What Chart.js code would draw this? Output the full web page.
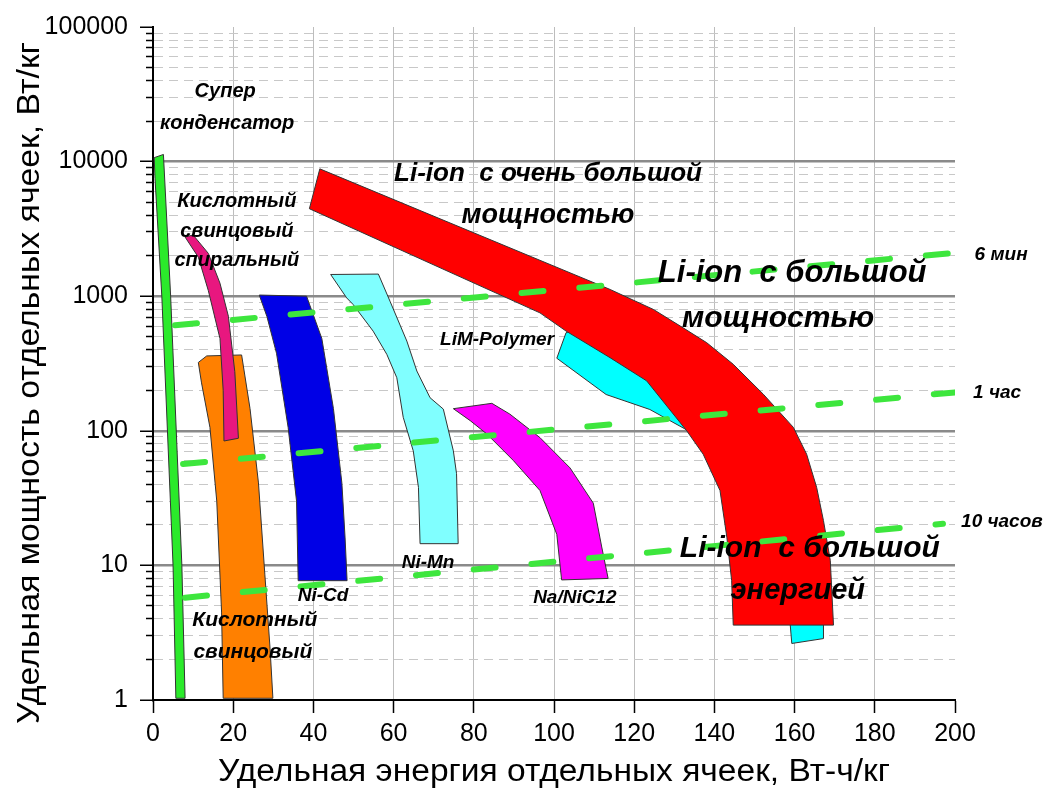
<!DOCTYPE html>
<html>
<head>
<meta charset="utf-8">
<script src="https://cdn.jsdelivr.net/npm/chart.js@4/dist/chart.umd.min.js"></script>
<style>
  html, body { margin: 0; padding: 0; background: #fff; }
</style>
</head>
<body>
<canvas id="ragone" width="1051" height="794"></canvas>
<script>
// ---- axis ticks ----
const xTicks = [0, 20, 40, 60, 80, 100, 120, 140, 160, 180, 200];
const yDecades = [1, 10, 100, 1000, 10000, 100000];
const yMinorSteps = [2, 3, 4, 5, 6, 7, 8, 9];

// ---- regions: [energy Wh/kg, power W/kg] outline points ----
const superCap = [[0.3, 10700], [0.5, 7500], [2.2, 1000], [5.0, 10], [5.7, 1.03],
  [8.0, 1.03], [7.2, 10], [4.4, 1000], [2.6, 11300]];
const leadSpiral = [[8.0, 2750], [10.0, 2850], [13.8, 2080], [16.7, 1250], [18.8, 710],
  [20.4, 275], [21.3, 88], [17.7, 84], [17.5, 200], [16.7, 485], [13.8, 1100], [11.3, 1950]];
const leadAcid = [[11.3, 322], [13.4, 360], [22.1, 366], [24.2, 146], [26.3, 41], [27.9, 8.5],
  [29.2, 2.4], [29.9, 1.03], [17.5, 1.03], [17.1, 4.5], [15.9, 30], [14.2, 106], [12.1, 227]];
const niCd = [[26.5, 1020], [38.3, 1000], [42.1, 485], [45.0, 146], [47.1, 41], [47.9, 16],
  [48.4, 7.7], [36.2, 7.7], [35.8, 30], [33.7, 106], [30.8, 377], [28.4, 708]];
const niMn = [[44.3, 1450], [56.2, 1460], [59.1, 918], [63.3, 464], [65.8, 278], [69.1, 176],
  [72.4, 145], [74.9, 71], [75.7, 48], [76.1, 14.5], [66.6, 14.5], [66.2, 38], [64.9, 71],
  [62.4, 126], [60.8, 248], [58.3, 370], [54.9, 550], [49.9, 868], [48.3, 971]];
const naNiCl = [[74.9, 146], [84.5, 160], [89.0, 133], [96.5, 89], [104.0, 53], [109.8, 29],
  [111.9, 13.7], [113.5, 8.0], [101.9, 7.8], [100.7, 17], [96.5, 36], [89.9, 60], [83.2, 95], [79.1, 119]];
const limPolymer = [[103.0, 535], [100.7, 346], [113.0, 186], [123.9, 144], [133.5, 100],
  [151.4, 21.5], [158.4, 5.5], [159.3, 2.63], [167.2, 2.86], [167.2, 3.7], [163.8, 30.3],
  [156.4, 119], [136.4, 330], [111.5, 653]];
const liIon = [[41.6, 8830], [114.0, 1122], [124.8, 797], [132.2, 582], [138.1, 451],
  [144.7, 312], [152.2, 187], [159.7, 106], [163.0, 67], [165.5, 38], [167.2, 21.5],
  [168.9, 10.9], [169.7, 3.6], [144.7, 3.6], [144.3, 7.7], [143.1, 16.2], [141.4, 36],
  [137.2, 67], [133.1, 100], [123.1, 235], [114.0, 349], [103.0, 551], [96.5, 752], [39.0, 4465]];

// ---- discharge-time lines ----
const line6min = [[5.5, 608], [200, 2100]];
const line1h = [[7.5, 56.6], [200, 193]];
const line10h = [[8.0, 5.75], [197, 20.4]];

// ---- text labels [text, energy, power, size] ----
const chartLabels = [
  ['Супер', 18.0, 33000, 20], ['конденсатор', 18.5, 19100, 20],
  ['Кислотный', 20.9, 5060, 20], ['свинцовый', 20.9, 3030, 20], ['спиральный', 20.9, 1848, 20],
  ['Li-ion  с очень большой', 98.5, 8150, 26], ['мощностью', 98.5, 3980, 27],
  ['Li-ion  с большой', 159.4, 1480, 31], ['мощностью', 155.9, 676, 30],
  ['LiM-Polymer', 85.8, 472, 19], ['Ni-Mn', 68.6, 10.5, 19], ['Ni-Cd', 42.4, 5.9, 19],
  ['Na/NiC12', 105.2, 5.7, 19], ['Кислотный', 25.4, 3.9, 21], ['свинцовый', 24.9, 2.27, 21],
  ['Li-ion  с большой', 163.8, 13.4, 30], ['энергией', 160.8, 6.5, 29],
  ['6 мин', 211.5, 2046, 19], ['1 час', 210.5, 191, 19], ['10 часов', 211.7, 21.2, 19]
];

const xTitle = 'Удельная энергия отдельных ячеек, Вт-ч/кг';
const yTitle = 'Удельная мощность отдельных ячеек, Вт/кг';

const SANS = '"Liberation Sans", Arial, sans-serif';

function isDecade(v) {
  const l = Math.log10(v);
  return Math.abs(l - Math.round(l)) < 1e-6;
}
const toPts = arr => arr.map(p => ({ x: p[0], y: p[1] }));

function region(points, color, order) {
  return { data: toPts(points), polygon: true, fillColor: color, order: order,
    showLine: false, pointRadius: 0, pointHoverRadius: 0 };
}
function timeLine(points) {
  return { data: toPts(points), showLine: true, order: 0, pointRadius: 0,
    borderColor: '#3de63d', borderWidth: 6, borderDash: [22, 36], borderCapStyle: 'round' };
}

// fill each region outline using point positions from the scales
const polygonFill = {
  id: 'polygonFill',
  beforeDatasetDraw(chart, args) {
    const ds = chart.data.datasets[args.index];
    if (!ds.polygon) return;
    const ctx = chart.ctx;
    ctx.save();
    ctx.beginPath();
    args.meta.data.forEach((p, i) => i ? ctx.lineTo(p.x, p.y) : ctx.moveTo(p.x, p.y));
    ctx.closePath();
    ctx.fillStyle = ds.fillColor;
    ctx.fill();
    ctx.lineWidth = 1;
    ctx.strokeStyle = '#333';
    ctx.stroke();
    ctx.restore();
  }
};

// axis title stretched to the span it covers in the original
function drawTitle(ctx, text, cx, cy, span, rotate) {
  ctx.save();
  ctx.font = '31px ' + SANS;
  const sx = span / ctx.measureText(text).width;
  ctx.translate(cx, cy);
  if (rotate) ctx.rotate(-Math.PI / 2);
  ctx.scale(sx, 1);
  ctx.fillText(text, 0, 0);
  ctx.restore();
}

const textLabels = {
  id: 'textLabels',
  afterDraw(chart) {
    const { ctx, chartArea, scales: { x, y } } = chart;
    ctx.save();
    ctx.fillStyle = '#000';
    ctx.textAlign = 'center';
    ctx.textBaseline = 'middle';
    chartLabels.forEach(([text, ex, py, size]) => {
      ctx.font = 'italic bold ' + size + 'px ' + SANS;
      ctx.fillText(text, x.getPixelForValue(ex), y.getPixelForValue(py));
    });
    drawTitle(ctx, xTitle, (chartArea.left + chartArea.right) / 2, chartArea.bottom + 72, 672, false);
    drawTitle(ctx, yTitle, 30, chartArea.top + 356, 682, true);
    ctx.restore();
  }
};

new Chart(document.getElementById('ragone'), {
  type: 'scatter',
  data: {
    datasets: [
      timeLine(line6min), timeLine(line1h), timeLine(line10h),
      region(liIon, '#ff0000', 1),
      region(limPolymer, '#00ffff', 2),
      region(naNiCl, '#ff00ff', 3),
      region(niMn, '#80ffff', 3),
      region(niCd, '#0000e6', 3),
      region(leadAcid, '#ff8000', 4),
      region(leadSpiral, '#e8177f', 3),
      region(superCap, '#2bea2b', 3)
    ]
  },
  options: {
    responsive: false,
    animation: false,
    layout: { padding: { top: 25, right: 96, left: 0, bottom: 0 } },
    plugins: { legend: { display: false }, tooltip: { enabled: false } },
    scales: {
      x: {
        type: 'linear', min: 0, max: 200,
        afterBuildTicks: s => { s.ticks = xTicks.map(v => ({ value: v })); },
        afterFit: s => { s.height = 94; },
        ticks: { color: '#000', font: { family: SANS, size: 25 }, padding: 6, maxRotation: 0, autoSkip: false },
        grid: {
          color: c => (c.tick && (c.tick.value === 0 || c.tick.value === 200)) ? 'rgba(0,0,0,0)' : '#bdbdbd',
          lineWidth: 1, tickLength: 13, tickColor: '#000', tickWidth: 1.5
        },
        border: { color: '#000', width: 2 }
      },
      y: {
        type: 'logarithmic', min: 1, max: 100000,
        afterBuildTicks: s => {
          const t = [];
          yDecades.forEach(d => {
            t.push({ value: d, major: true });
            if (d < 100000) yMinorSteps.forEach(m => t.push({ value: d * m }));
          });
          s.ticks = t;
        },
        afterFit: s => { s.width = 153; },
        ticks: {
          autoSkip: false, color: '#000', font: { family: SANS, size: 25 }, padding: 12,
          callback: v => isDecade(v) ? String(v) : ''
        },
        grid: {
          color: c => {
            if (!c.tick) return '#c8c8c8';
            const v = c.tick.value;
            if (v === 1 || v === 100000) return 'rgba(0,0,0,0)';
            return isDecade(v) ? '#8a8a8a' : '#c8c8c8';
          },
          lineWidth: c => (c.tick && isDecade(c.tick.value)) ? 2.5 : 1,
          tickLength: 13, tickColor: '#000', tickWidth: 1.5,
          tickBorderDash: c => (c.tick && !isDecade(c.tick.value)) ? [0, 6, 20, 0] : []
        },
        border: {
          color: '#000', width: 2,
          dash: c => (c.tick && !isDecade(c.tick.value)) ? [9, 6] : []
        }
      }
    }
  },
  plugins: [polygonFill, textLabels]
});
</script>
</body>
</html>
